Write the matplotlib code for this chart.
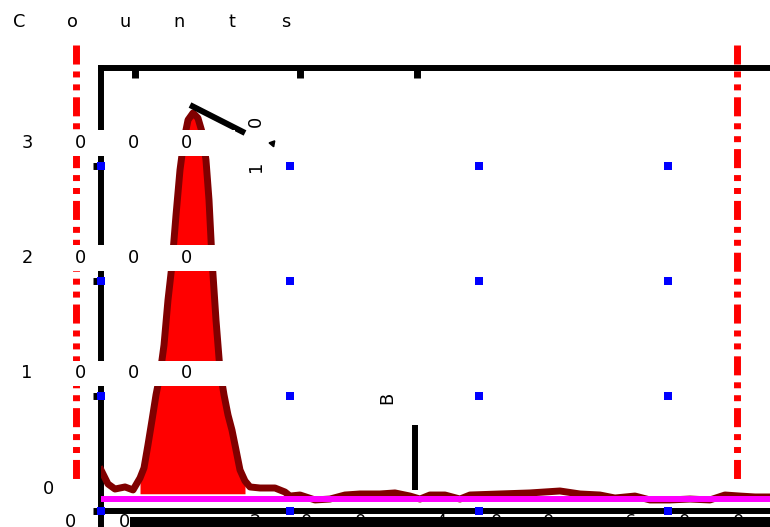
import matplotlib
matplotlib.use('Agg')
import matplotlib.pyplot as plt
import matplotlib.transforms as mtransforms
from matplotlib.patches import Rectangle

plt.rcParams['lines.scale_dashes'] = False
plt.rcParams['font.family'] = ['DejaVu Sans']

# spectrum (channel, counts)
channel = [0, 7.4, 14.8, 25.4, 33.9, 41.3, 45.5, 49.7, 54.0, 58.2, 62.4, 66.7,
           70.9, 75.1, 79.4, 83.6, 87.8, 92.1, 97.4, 102.6, 106.9, 111.1, 114.3,
           117.5, 121.7, 125.9, 130.2, 134.4, 138.6, 142.9, 147.1, 152.4, 157.7,
           168.3, 184.1, 194.7, 200.0, 210.6, 226.5, 242.3, 258.2, 274.1, 295.2,
           311.1, 327.0, 337.6, 348.1, 364.0, 379.9, 390.5, 422.2, 454.0, 485.7,
           506.9, 528.0, 543.9, 565.1, 581.0, 602.1, 623.3, 644.4, 660.3, 676.2,
           692.1, 708.0]
counts = [357, 235, 191, 209, 183, 287, 374, 574, 791, 1009, 1183, 1444,
          1835, 2139, 2574, 2965, 3226, 3400, 3461, 3417, 3296, 3052, 2704,
          2183, 1661, 1226, 1009, 835, 704, 530, 357, 261, 209,
          200, 200, 165, 130, 139, 96, 104, 139, 148, 148,
          157, 130, 104, 139, 139, 104, 139, 148, 157, 174,
          148, 139, 113, 130, 96, 96, 104, 96, 139, 130,
          122, 122]

x_ticks = [0, 200, 400, 600]
y_ticks = [0, 1000, 2000, 3000]
y_tick_labels = ['3000', '2000', '1000']
top_tick_x = [36, 211, 334]
cut_lines_x = [-26.5, 673.5]
background_level = 100
peak_range = (41, 153)

W, H = 770, 527


def fx(x):
    return x / W


def fy(y):
    return 1 - y / H


fig = plt.figure(figsize=(7.7, 5.27), dpi=100)
ax = fig.add_axes([fx(101), 16 / H, 669 / W, 443 / H])
ax.set_xlim(0, 708)
ax.set_ylim(0, 3852)

for s in ['right']:
    ax.spines[s].set_visible(False)
for s in ['left', 'top', 'bottom']:
    ax.spines[s].set_linewidth(4.3)
    ax.spines[s].set_color('black')

ax.set_xticks(x_ticks)
ax.set_yticks(y_ticks)
ax.set_xticklabels([])
ax.set_yticklabels([])
ax.tick_params(axis='x', length=0)
ax.tick_params(axis='y', length=5.8, width=5, color='black', direction='out')

# peak fill + outline
sel = [(c >= peak_range[0]) and (c <= peak_range[1]) for c in channel]
ax.fill_between(channel, counts, 150, where=sel, color='#ff0000', lw=0, zorder=2)
ax.plot(channel, counts, color='#800000', lw=5, zorder=3, solid_joinstyle='round')
ax.axhline(background_level, color='#ff00ff', lw=4.3, zorder=4)

# blue markers on the grid crossings
gx = [x for x in x_ticks for _ in y_ticks]
gy = [y for _ in x_ticks for y in y_ticks]
ax.plot(gx, gy, 's', color='#0000ff', ms=5.8, mew=0, zorder=6, clip_on=False)

# red dash-dot cut lines
for cx in cut_lines_x:
    ax.plot([cx, cx], [4052, 226], color='#ff0000', lw=5,
            ls=(0, (13.7, 5, 4.3, 5, 4.3, 5)), clip_on=False, zorder=5,
            solid_capstyle='butt', dash_capstyle='butt')

# odd black marks
ax.vlines(top_tick_x, 3765, 3852, color='black', lw=5, clip_on=False, zorder=5)
ax.plot([94.2, 152.4], [3530, 3287], color='black', lw=4.3, zorder=5,
        solid_capstyle='butt', clip_on=False)
ax.plot([181], [3200], marker=(3, 0, 200), color='black', ms=5, zorder=5)
ax.plot([332.3, 332.3], [748, 183], color='black', lw=4.3, zorder=5,
        solid_capstyle='butt')
ax.plot([0, 0], [0, -140], color='black', lw=4.3, clip_on=False, zorder=5,
        solid_capstyle='butt')
ax.plot([31, 708], [-96, -96], color='black', lw=7.2, clip_on=False, zorder=7,
        solid_capstyle='butt')

fs = 12.8
step = 53.3

# title, letter spaced
for i, ch in enumerate('Counts'):
    fig.text(fx(19 + i * step), fy(22), ch, fontsize=fs, ha='center', va='center')

# y tick labels with white boxes
for lab, v in zip(y_tick_labels, [3000, 2000, 1000]):
    py = 511 - v * 0.115 - 23
    fig.patches.append(Rectangle((fx(15), fy(py + 12.5)), 220 / W, 25 / H,
                                 transform=fig.transFigure, facecolor='white',
                                 edgecolor='none', zorder=8))
    for i, ch in enumerate(lab):
        fig.text(fx(27 + i * step), fy(py), ch, fontsize=fs, ha='center',
                 va='center', zorder=9)
fig.text(fx(48), fy(489), '0', fontsize=fs, ha='center', va='center', zorder=9)

# x tick labels, mostly hidden under the lower bar
bottom_chars = [('0', 70), ('0', 124), ('2', 255), ('0', 307), ('0', 360),
                ('4', 441), ('0', 496), ('0', 548), ('6', 630), ('0', 685),
                ('0', 738), ('m', 764)]
for ch, x in bottom_chars:
    fig.text(fx(x), fy(522), ch, fontsize=fs, ha='center', va='center', zorder=-1)

# rotated stray labels
fig.text(fx(256), fy(121), '0', fontsize=fs, rotation=90, ha='center', va='center', zorder=9)
fig.text(fx(256), fy(166), '1', fontsize=fs, rotation=90, ha='center', va='center', zorder=9)
fig.text(fx(387), fy(398), 'B', fontsize=fs, rotation=90, ha='center', va='center', zorder=9)

fig.savefig('out.png', dpi=100)
